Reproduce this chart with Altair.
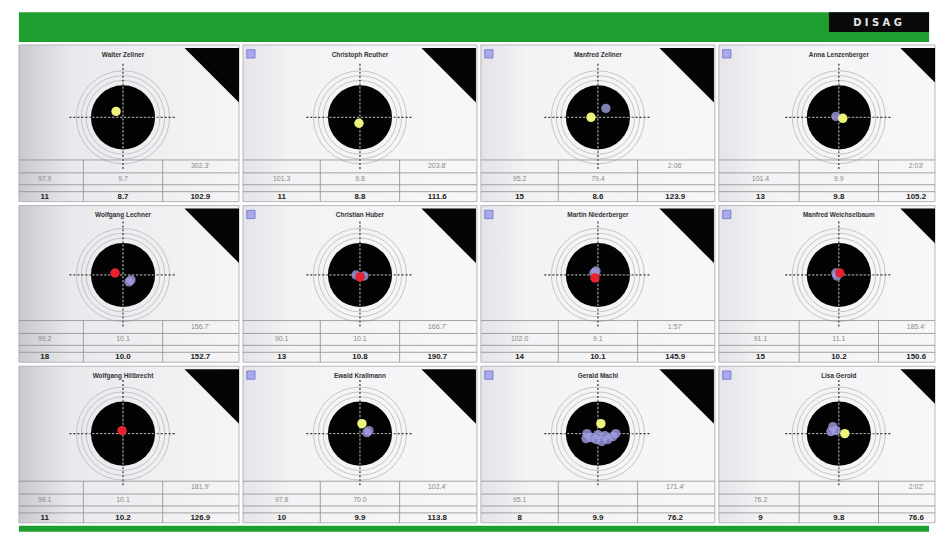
import math
import altair as alt
import pandas as pd

# ---------------- data ----------------
names = ["Walter Zellner", "Christoph Reuther", "Manfred Zellner", "Anna Lenzenberger",
         "Wolfgang Lechner", "Christian Huber", "Martin Niederberger", "Manfred Weichselbaum",
         "Wolfgang Hillbrecht", "Ewald Krallmann", "Gerald Machl", "Lisa Gerold"]

# last shot offset from target centre (px, x right, y down)
last_dx = [-7, -1, -7, 4, -8, 0, -3, 1, -1, 2, 3, 6]
last_dy = [-6, 6, 0, 1, -2, 2, 3, -2, -3, -10, -10, 0]
last_kind = ["yellow", "yellow", "yellow", "yellow", "red", "red", "red", "red",
             "red", "yellow", "yellow", "yellow"]

# earlier shots (dx, dy)
prev_shots = [
    [],
    [],
    [(8, -9)],
    [(-3, -1)],
    [(6, 7), (8, 5)],
    [(-4, 0), (4, 1)],
    [(-4, -2), (-2, -4)],
    [(-3, -2), (-2, 1)],
    [],
    [(9, -3), (7, -1)],
    [(-11, 0), (-7, 4), (-2, 6), (4, 8), (10, 6), (15, 3), (18, 0), (0, 1), (7, 2), (-12, 5)],
    [(-6, -7), (-3, -3), (-8, -2)],
]

time_vals = ["302.3'", "203.8'", "2:06'", "2:03'", "156.7'", "166.7'", "1:57'", "185.4'",
             "181.9'", "102.4'", "171.4'", "2:02'"]
left_vals = ["97.9", "101.3", "95.2", "101.4", "99.2", "90.1", "102.0", "91.1",
             "99.1", "97.8", "95.1", "76.2"]
mid_vals = ["9.7", "9.8", "79.4", "9.9", "10.1", "10.1", "9.1", "11.1",
            "10.1", "70.0", "", ""]
count_vals = ["11", "11", "15", "13", "18", "13", "14", "15", "11", "10", "8", "9"]
score_vals = ["8.7", "8.8", "8.6", "9.8", "10.0", "10.8", "10.1", "10.2",
              "10.2", "9.9", "9.9", "9.8"]
total_vals = ["102.9", "111.6", "123.9", "105.2", "152.7", "190.7", "145.9", "150.6",
              "126.9", "113.8", "76.2", "76.6"]

# ---------------- layout / style ----------------
COL_W = [222, 236, 236, 218]
CX = [105, 118, 118, 121]
ROW_CY = [73, 70, 68]
PANEL_H = 158
BLACK_R = 36.5
RING_R = [42, 47.5, 53]
SHOT_COLORS = {"yellow": "#eff47c", "red": "#e8232f"}
FONT = "Liberation Sans"
GREEN = "#1f9e30"


def X(field, w):
    return alt.X(field, type="quantitative",
                 scale=alt.Scale(domain=[0, w], nice=False, zero=False), axis=None)


def Y(field, h=PANEL_H):
    return alt.Y(field, type="quantitative",
                 scale=alt.Scale(domain=[0, h], nice=False, zero=False, reverse=True),
                 axis=None)


def grad(stops):
    return alt.LinearGradient(gradient="linear", x1=0, x2=1, y1=0, y2=0,
                              stops=[alt.GradientStop(color=c, offset=o) for o, c in stops])


def panel(i):
    r, c = divmod(i, 4)
    w, cx, cy = COL_W[c], CX[c], ROW_CY[r]
    layers = []

    if c == 0:
        fill = grad([(0, "#c9c9cf"), (0.25, "#eaeaee"), (1, "#f5f5f7")])
    else:
        fill = grad([(0, "#e4e4e9"), (0.2, "#f3f3f5"), (1, "#f7f7f9")])
    bg = pd.DataFrame({"x": [0], "x2": [w], "y": [0], "y2": [PANEL_H]})
    layers.append(alt.Chart(bg).mark_rect(fill=fill, stroke="#b5b5ba", strokeWidth=1)
                  .encode(x=X("x", w), x2="x2:Q", y=Y("y"), y2="y2:Q"))

    # black corner triangle
    tri = pd.DataFrame({"x": [cx + 62, cx + 117], "y": [3, 3], "y2": [3, 58]})
    layers.append(alt.Chart(tri).mark_area(color="#050505", clip=True)
                  .encode(x=X("x", w), y=Y("y"), y2="y2:Q"))

    # small icon
    if c > 0:
        ic = pd.DataFrame({"x": [8], "y": [9]})
        layers.append(alt.Chart(ic).mark_square(size=70, fill="#a9a9ee", stroke="#7070c8",
                                                strokeWidth=0.8, opacity=1)
                      .encode(x=X("x", w), y=Y("y")))

    # title
    tt = pd.DataFrame({"x": [cx], "y": [10], "t": [names[i]]})
    layers.append(alt.Chart(tt).mark_text(font=FONT, fontSize=6.5, fontWeight="bold",
                                          color="#333333")
                  .encode(x=X("x", w), y=Y("y"), text="t:N"))

    # rings
    rings = pd.DataFrame({"x": [cx] * len(RING_R), "y": [cy] * len(RING_R),
                          "s": [math.pi * rr * rr for rr in RING_R]})
    layers.append(alt.Chart(rings).mark_point(shape="circle", filled=False, color="#b0b0b4",
                                              strokeWidth=0.7, opacity=1)
                  .encode(x=X("x", w), y=Y("y"), size=alt.Size("s:Q", scale=None)))

    # black
    blk = pd.DataFrame({"x": [cx], "y": [cy], "s": [math.pi * BLACK_R * BLACK_R]})
    layers.append(alt.Chart(blk).mark_point(shape="circle", filled=True, color="#030303",
                                            opacity=1)
                  .encode(x=X("x", w), y=Y("y"), size=alt.Size("s:Q", scale=None)))

    # crosshair
    hx = pd.DataFrame({"x": [cx - 54], "x2": [cx + 54], "y": [cy]})
    vy = pd.DataFrame({"x": [cx], "y": [cy - 54], "y2": [cy + 54]})
    hxi = pd.DataFrame({"x": [cx - 35], "x2": [cx + 35], "y": [cy]})
    vyi = pd.DataFrame({"x": [cx], "y": [cy - 35], "y2": [cy + 35]})
    layers.append(alt.Chart(hx).mark_rule(color="#333333", strokeWidth=1.2, strokeDash=[2, 2])
                  .encode(x=X("x", w), x2="x2:Q", y=Y("y")))
    layers.append(alt.Chart(vy).mark_rule(color="#333333", strokeWidth=1.2, strokeDash=[2, 2])
                  .encode(x=X("x", w), y=Y("y"), y2="y2:Q"))
    layers.append(alt.Chart(hxi).mark_rule(color="#bdbdbd", strokeWidth=1.0, strokeDash=[2, 2])
                  .encode(x=X("x", w), x2="x2:Q", y=Y("y")))
    layers.append(alt.Chart(vyi).mark_rule(color="#bdbdbd", strokeWidth=1.0, strokeDash=[2, 2])
                  .encode(x=X("x", w), y=Y("y"), y2="y2:Q"))

    # earlier shots
    if prev_shots[i]:
        ps = pd.DataFrame({"x": [cx + d[0] for d in prev_shots[i]],
                           "y": [cy + d[1] for d in prev_shots[i]]})
        layers.append(alt.Chart(ps).mark_circle(size=90, color="#a09ee2", opacity=0.8)
                      .encode(x=X("x", w), y=Y("y")))
    # last shot
    ls = pd.DataFrame({"x": [cx + last_dx[i]], "y": [cy + last_dy[i]]})
    layers.append(alt.Chart(ls).mark_circle(size=90, color=SHOT_COLORS[last_kind[i]], opacity=1)
                  .encode(x=X("x", w), y=Y("y")))

    # table lines
    hl = pd.DataFrame({"x": [0] * 4, "x2": [w] * 4, "y": [116, 129, 141, 148]})
    layers.append(alt.Chart(hl).mark_rule(color="#8e8e8e", strokeWidth=0.8)
                  .encode(x=X("x", w), x2="x2:Q", y=Y("y")))
    vl = pd.DataFrame({"x": [cx - 40, cx + 40], "y": [116, 116], "y2": [PANEL_H, PANEL_H]})
    layers.append(alt.Chart(vl).mark_rule(color="#8e8e8e", strokeWidth=0.8)
                  .encode(x=X("x", w), y=Y("y"), y2="y2:Q"))

    # table texts
    gt = pd.DataFrame({"x": [cx + 78, cx - 79, cx], "y": [122, 135, 135],
                       "t": [time_vals[i], left_vals[i], mid_vals[i]]})
    layers.append(alt.Chart(gt).mark_text(font=FONT, fontSize=7, color="#8a8a8a")
                  .encode(x=X("x", w), y=Y("y"), text="t:N"))
    bt = pd.DataFrame({"x": [cx - 79, cx, cx + 78], "y": [153, 153, 153],
                       "t": [count_vals[i], score_vals[i], total_vals[i]]})
    layers.append(alt.Chart(bt).mark_text(font=FONT, fontSize=8, fontWeight="bold",
                                          color="#222222")
                  .encode(x=X("x", w), y=Y("y"), text="t:N"))

    return alt.layer(*layers).properties(width=w, height=PANEL_H)


TOTAL_W = sum(COL_W) + 2 * 3
HEADER_H = 30

hdr_bg = pd.DataFrame({"x": [0], "x2": [TOTAL_W], "y": [0], "y2": [HEADER_H]})
hdr_logo = pd.DataFrame({"x": [TOTAL_W - 101], "x2": [TOTAL_W], "y": [0], "y2": [20]})
hdr_text = pd.DataFrame({"x": [TOTAL_W - 52], "y": [10.5], "t": ["D I S A G"]})
header = alt.layer(
    alt.Chart(hdr_bg).mark_rect(color=GREEN)
    .encode(x=X("x", TOTAL_W), x2="x2:Q", y=Y("y", HEADER_H), y2="y2:Q"),
    alt.Chart(hdr_logo).mark_rect(color="#0a0a0a")
    .encode(x=X("x", TOTAL_W), x2="x2:Q", y=Y("y", HEADER_H), y2="y2:Q"),
    alt.Chart(hdr_text).mark_text(font="DejaVu Sans", fontSize=10, fontWeight="bold",
                                  color="#e6e6e6")
    .encode(x=X("x", TOTAL_W), y=Y("y", HEADER_H), text="t:N"),
).properties(width=TOTAL_W, height=HEADER_H)

FOOT_H = 6
ft = pd.DataFrame({"x": [0], "x2": [TOTAL_W], "y": [0], "y2": [FOOT_H]})
footer = alt.Chart(ft).mark_rect(color=GREEN).encode(
    x=X("x", TOTAL_W), x2="x2:Q", y=Y("y", FOOT_H), y2="y2:Q"
).properties(width=TOTAL_W, height=FOOT_H)

rows = [alt.hconcat(*[panel(r * 4 + c) for c in range(4)], spacing=2) for r in range(3)]

chart = alt.vconcat(header, *rows, footer, spacing=2).properties(
    padding={"left": 10, "top": 2, "right": 0, "bottom": 0},
    background="white",
).configure_view(stroke=None)

chart.save("out.html", embed_options={"renderer": "svg", "actions": False})
